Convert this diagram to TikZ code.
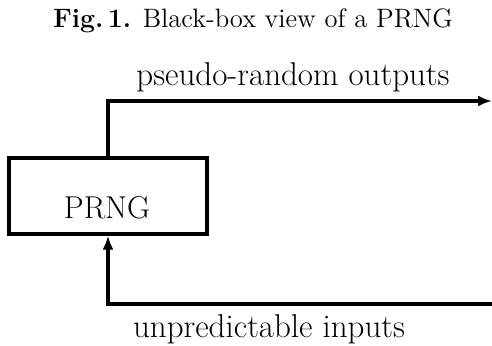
\documentclass[tikz,border=0pt]{standalone}
\usetikzlibrary{arrows.meta}
\begin{document}
\begin{tikzpicture}[x=0.5pt,y=-0.5pt,
  conn/.style={line width=1.6pt,-{Latex[length=7pt,width=5.5pt]}},
  blk/.style={draw,line width=1.6pt,minimum width=99pt,minimum height=38pt,inner sep=0pt},
  lbl/.style={font=\fontsize{16.5pt}{19pt}\selectfont,anchor=base,inner sep=0pt},
  boxlbl/.style={font=\fontsize{15.8pt}{19pt}\selectfont,anchor=base,inner sep=0pt},
  captext/.style={font=\fontsize{13.3pt}{16pt}\selectfont,anchor=base,inner sep=0pt}]
\useasboundingbox (0,0) rectangle (492,346);
\node[captext] (title) at (253,28) {\textbf{Fig.\,1.} Black-box view of a PRNG};
\node[blk] (prng) at (108,196) {};
\node[boxlbl] (prngtxt) at (107,219) {PRNG};
\node[lbl] (outlbl) at (293,86) {pseudo-random outputs};
\node[lbl] (inlbl) at (269,338) {unpredictable inputs};
\coordinate (outend) at (492,101);
\coordinate (instart) at (492,304);
\draw[conn] (prng.north) |- (outend);
\draw[conn] (instart) -| (prng.south);
\end{tikzpicture}
\end{document}
